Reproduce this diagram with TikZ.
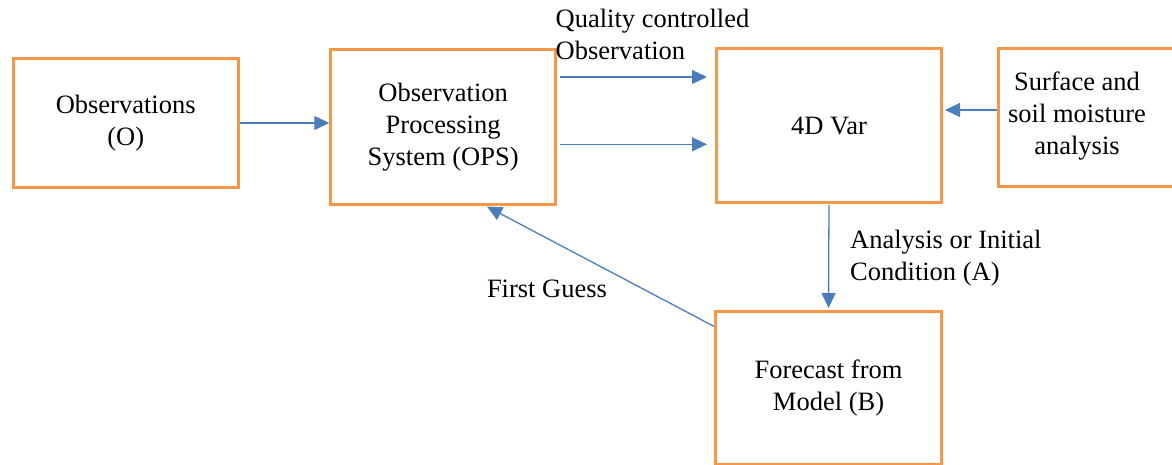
\documentclass[tikz,border=0pt]{standalone}
\usepackage{fontspec}
\setmainfont{LiberationSerif-Regular.ttf}
\usetikzlibrary{arrows.meta,calc}
\definecolor{boxorange}{HTML}{F79646}
\definecolor{linkblue}{HTML}{4A7EBB}
\tikzset{
  stage/.style={draw=boxorange, line width=3pt, fill=white, rectangle,
    anchor=north west, inner sep=0pt, align=center,
    font=\fontsize{26.5}{32}\selectfont},
  caption/.style={inner sep=0pt, font=\fontsize{26.5}{32}\selectfont},
  link/.style={draw=linkblue, line width=1.3pt,
    -{Triangle[length=15pt,width=14pt]}, color=linkblue},
}
\begin{document}
\begin{tikzpicture}[x=1pt, y=-1pt]
  \useasboundingbox (0,0) rectangle (1172,464);

  % processing stages
  \node[stage, minimum width=225pt, minimum height=128.4pt] (obs) at (11.7,57.3)
    {Observations\\(O)};
  \node[stage, minimum width=224.7pt, minimum height=154.7pt] (ops) at (329.3,48)
    {Observation\\Processing\\System (OPS)};
  \node[stage, minimum width=225pt, minimum height=153.7pt] (var) at (715,47.3)
    {4D Var};
  \node[stage, minimum width=185pt, minimum height=138.3pt] (surf) at (997,46.7) {};
  \node[caption, align=center] (surftxt) at (1077,116)
    {Surface and\\soil moisture\\analysis};
  \node[stage, minimum width=226pt, minimum height=153pt] (fc) at (714,310)
    {Forecast from\\Model (B)};

  % heights of the horizontal links
  \coordinate (obsy) at (0,123);
  \coordinate (qcup) at (0,77);
  \coordinate (qclow) at (0,144.3);
  \coordinate (surfy) at (0,110);

  % connectors
  \draw[link] (obs.east |- obsy) -- (ops.west |- obsy);
  \draw[link, shorten <=3pt, shorten >=8pt] (ops.east |- qcup) -- (var.west |- qcup);
  \draw[link, shorten <=3pt, shorten >=8pt] (ops.east |- qclow) -- (var.west |- qclow);
  \draw[link, shorten >=2pt] (surf.west |- surfy) -- (var.east |- surfy);
  \draw[link, shorten <=1pt, shorten >=2pt] (var.south) -- (fc.north);
  \draw[link, shorten >=2pt] ($(fc.north west)!0.105!(fc.south west)$)
    -- ($(ops.south west)!0.685!(ops.south east)$);

  % link captions
  \node[caption, align=left, anchor=west] (qclabel) at (555.5,34)
    {Quality controlled\\Observation};
  \node[caption, align=left, anchor=west] (anlabel) at (850,258)
    {Analysis or Initial\\Condition (A)};
  \node[caption] (fglabel) at (547,289) {First Guess};
\end{tikzpicture}
\end{document}
